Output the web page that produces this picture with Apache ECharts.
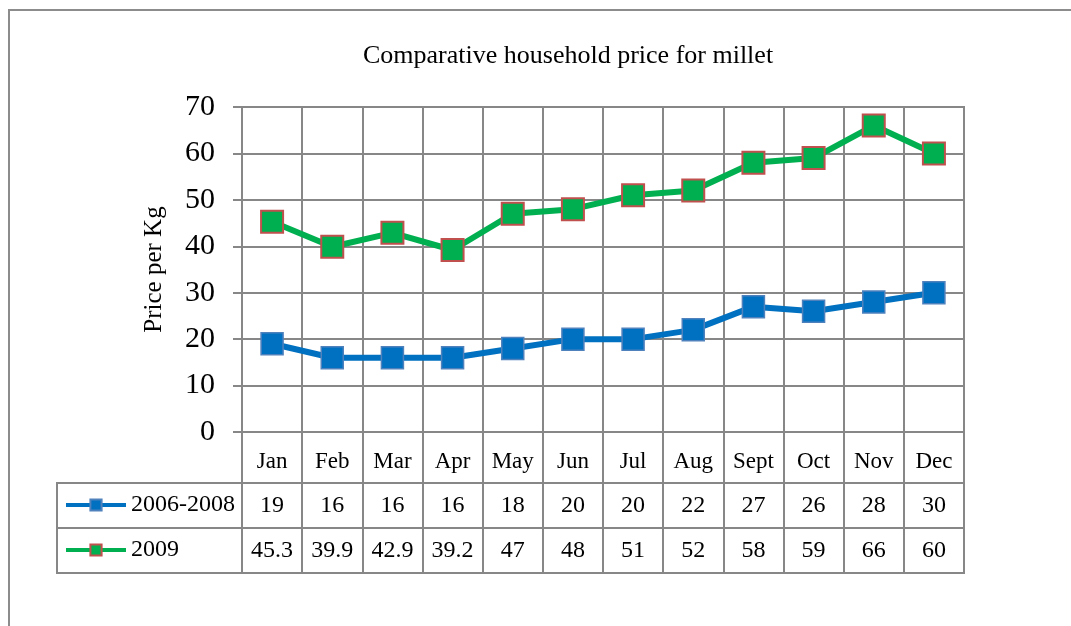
<!DOCTYPE html>
<html>
<head>
<meta charset="utf-8">
<script src="https://cdn.jsdelivr.net/npm/echarts@6/dist/echarts.min.js"></script>
<style>
  html, body { margin: 0; padding: 0; background: #fff; }
  #chart { width: 1071px; height: 626px; }
</style>
</head>
<body>
<div id="chart"></div>
<script>
// 数据
var months = ['Jan', 'Feb', 'Mar', 'Apr', 'May', 'Jun', 'Jul', 'Aug', 'Sept', 'Oct', 'Nov', 'Dec'];
var seriesNames = ['2006-2008', '2009'];
var price0608 = [19, 16, 16, 16, 18, 20, 20, 22, 27, 26, 28, 30];
var price2009 = [45.3, 39.9, 42.9, 39.2, 47, 48, 51, 52, 58, 59, 66, 60];

var gridColor = '#878787';
var font = 'Liberation Serif';

// 表格里的数字
function tableCells(values, row) {
  return values.map(function (v, i) { return [i, row, v]; });
}

var legendText = { fontFamily: font, fontSize: 24, color: '#000' };
var cellLabel = {
  show: true, position: 'inside', color: '#000', fontFamily: font, fontSize: 24,
  formatter: function (p) { return p.value[2]; }
};

var chart = echarts.init(document.getElementById('chart'));
chart.setOption({
  backgroundColor: '#fff',
  animation: false,
  title: {
    text: 'Comparative household price for millet',
    left: 363,
    top: 43,
    padding: 0,
    textStyle: { fontFamily: font, fontSize: 26, fontWeight: 'normal', color: '#000' }
  },
  legend: [
    {
      data: [seriesNames[0]], left: 64, top: 493, padding: 0, itemWidth: 60, itemHeight: 14, itemGap: 4,
      selectedMode: false, lineStyle: { width: 4 }, textStyle: legendText
    },
    {
      data: [seriesNames[1]], left: 64, top: 538, padding: 0, itemWidth: 60, itemHeight: 14, itemGap: 4,
      selectedMode: false, lineStyle: { width: 4 }, textStyle: legendText
    }
  ],
  graphic: [{
    type: 'rect',
    shape: { x: 9, y: 10, width: 1200, height: 800 },
    style: { fill: 'none', stroke: '#8c8c8c', lineWidth: 2 },
    silent: true
  }],
  grid: [
    { left: 242, right: 107, top: 107, bottom: 194, show: true, borderColor: gridColor, borderWidth: 2 },
    { left: 242, right: 107, top: 483, height: 90, show: true, borderColor: gridColor, borderWidth: 2 },
    { left: 57, width: 185, top: 483, height: 90, show: true, borderColor: gridColor, borderWidth: 2 }
  ],
  xAxis: [
    {
      gridIndex: 0, type: 'category', data: months, boundaryGap: true,
      axisLine: { lineStyle: { color: gridColor, width: 2 } },
      axisTick: { show: true, length: 51, lineStyle: { color: gridColor, width: 2 } },
      axisLabel: { color: '#000', fontFamily: font, fontSize: 23, margin: 18 },
      splitLine: { show: true, lineStyle: { color: gridColor, width: 2 } }
    },
    {
      gridIndex: 1, type: 'category', data: months, boundaryGap: true,
      axisLine: { show: false }, axisTick: { show: false }, axisLabel: { show: false },
      splitLine: { show: true, lineStyle: { color: gridColor, width: 2 } }
    },
    {
      gridIndex: 2, type: 'value', min: 0, max: 1,
      axisLine: { show: false }, axisTick: { show: false }, axisLabel: { show: false },
      splitLine: { show: false }
    }
  ],
  yAxis: [
    {
      gridIndex: 0, type: 'value', min: 0, max: 70, interval: 10,
      name: 'Price per Kg', nameLocation: 'middle', nameGap: 75,
      nameTextStyle: { fontFamily: font, fontSize: 25, color: '#000' },
      axisLine: { show: true, lineStyle: { color: gridColor, width: 2 } },
      axisTick: { show: true, length: 9, lineStyle: { color: gridColor, width: 2 } },
      axisLabel: { color: '#000', fontFamily: font, fontSize: 30, margin: 27 },
      splitLine: { show: true, lineStyle: { color: gridColor, width: 2 } }
    },
    {
      gridIndex: 1, type: 'category', data: seriesNames, inverse: true,
      axisLine: { show: false }, axisTick: { show: false }, axisLabel: { show: false },
      splitLine: { show: true, lineStyle: { color: gridColor, width: 2 } }
    },
    {
      gridIndex: 2, type: 'category', data: seriesNames, inverse: true,
      axisLine: { show: false }, axisTick: { show: false }, axisLabel: { show: false },
      splitLine: { show: true, lineStyle: { color: gridColor, width: 2 } }
    }
  ],
  series: [
    {
      name: seriesNames[0], type: 'line', xAxisIndex: 0, yAxisIndex: 0,
      data: price0608, symbol: 'rect', symbolSize: 22,
      lineStyle: { color: '#0070C0', width: 6 },
      itemStyle: { color: '#0070C0', borderColor: '#4F81BD', borderWidth: 1.5 }
    },
    {
      name: seriesNames[1], type: 'line', xAxisIndex: 0, yAxisIndex: 0,
      data: price2009, symbol: 'rect', symbolSize: 22,
      lineStyle: { color: '#00B050', width: 6 },
      itemStyle: { color: '#00B050', borderColor: '#C0504D', borderWidth: 2 }
    },
    {
      name: 'table0', type: 'scatter', xAxisIndex: 1, yAxisIndex: 1,
      data: tableCells(price0608, 0), symbolSize: 1,
      itemStyle: { color: '#fff', opacity: 1 }, label: cellLabel
    },
    {
      name: 'table1', type: 'scatter', xAxisIndex: 1, yAxisIndex: 1,
      data: tableCells(price2009, 1), symbolSize: 1,
      itemStyle: { color: '#fff', opacity: 1 }, label: cellLabel
    }
  ]
});
</script>
</body>
</html>
